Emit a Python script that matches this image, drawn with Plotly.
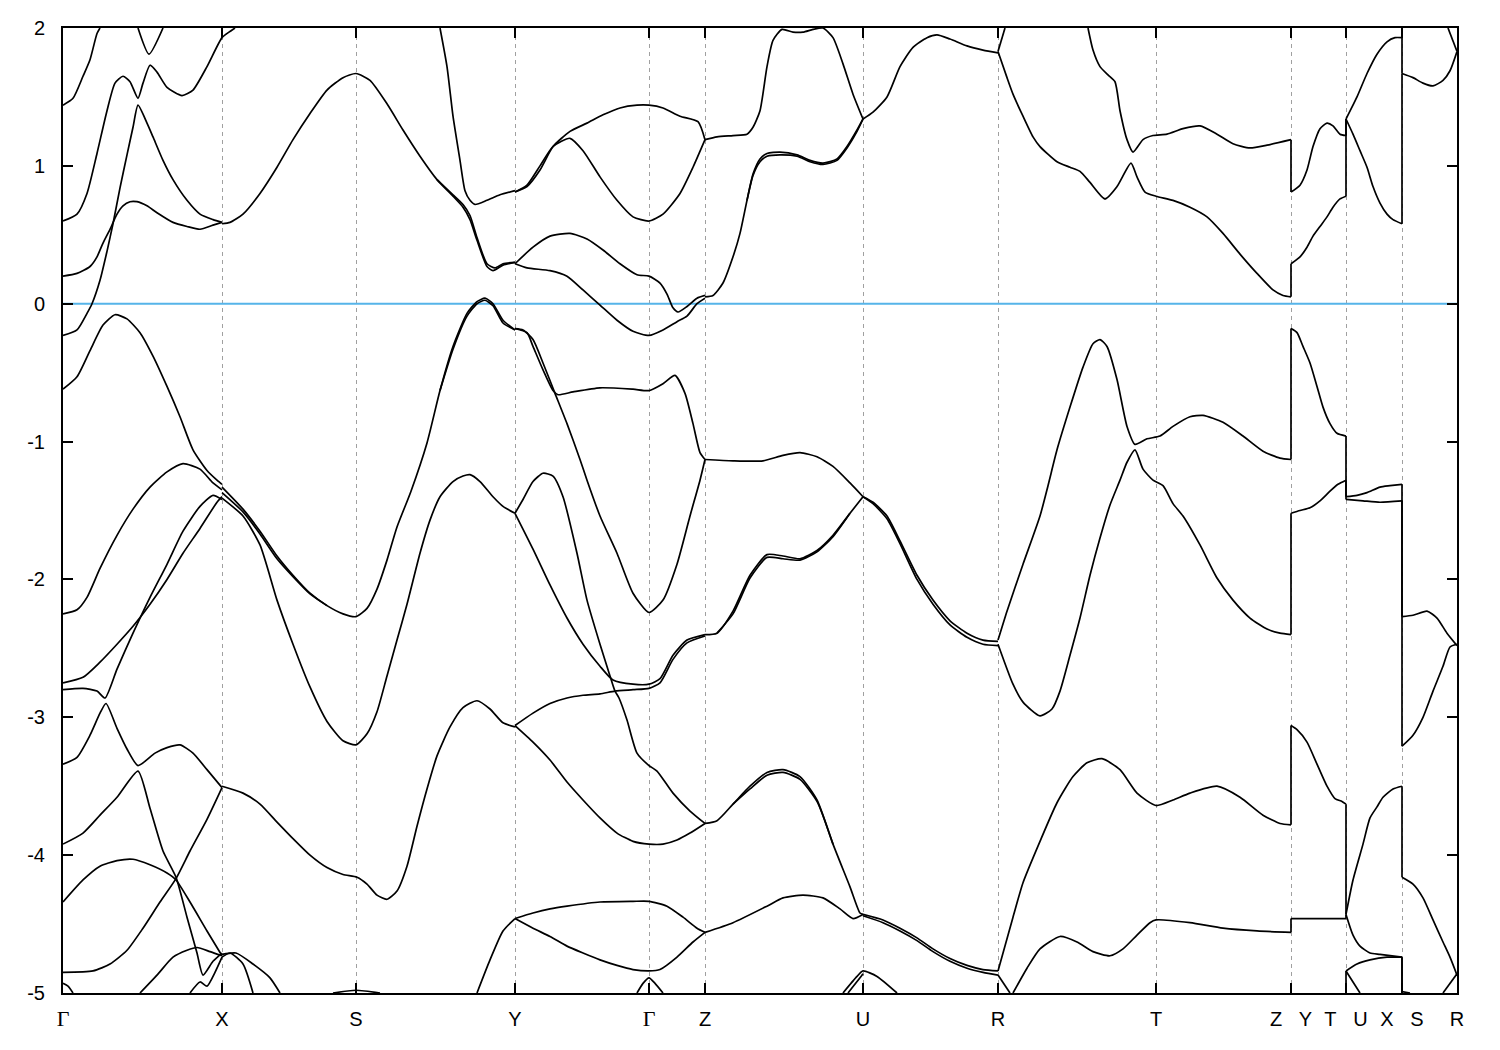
import plotly.graph_objects as go

# ---------------- high-symmetry path (path distance, arbitrary units) ----------------
K_POS = [0, 159, 293, 452, 586, 642, 800, 935, 1093, 1228, 1283, 1339, 1394]
K_LABELS = ["Γ", "X", "S", "Y", "Γ", "Z", "U", "R", "T", "Z   Y", "T   U", "X   S", "R"]
E_TICKS = [-5, -4, -3, -2, -1, 0, 1, 2]
E_RANGE = [-5, 2]
E_FERMI = 0.0

# ---------------- bands, (k, E in eV), per path segment ----------------
BANDS_G_X = [
    [(0, 0.60), (14, 0.65), (24, 0.80), (34, 1.09), (44, 1.40), (52, 1.60), (60, 1.65), (67, 1.61), (75, 1.49),
     (80, 1.60), (87, 1.73), (94, 1.68), (104, 1.57), (119, 1.51), (130, 1.55), (144, 1.72), (159, 1.93),
     (166, 1.97), (172, 2.0)],
    [(0, 0.20), (14, 0.22), (27, 0.27), (34, 0.34), (40, 0.44), (47, 0.54), (54, 0.65), (60, 0.71), (67, 0.74),
     (74, 0.74), (84, 0.71), (94, 0.66), (110, 0.59), (124, 0.56), (137, 0.54), (150, 0.57), (159, 0.59)],
    [(0, -0.23), (14, -0.19), (24, -0.07), (29, 0.0), (37, 0.17), (44, 0.38), (50, 0.58), (57, 0.84), (64, 1.08),
     (70, 1.28), (75, 1.44), (84, 1.31), (90, 1.21), (100, 1.04), (110, 0.90), (124, 0.75), (137, 0.65),
     (150, 0.61), (159, 0.59)],
    [(0, 1.44), (10, 1.49), (20, 1.65), (27, 1.77), (34, 1.96), (37, 2.0)],
    [(75, 2.0), (86, 1.81), (100, 2.0)],
    [(0, -0.62), (14, -0.53), (27, -0.34), (40, -0.155), (52, -0.08), (64, -0.11), (77, -0.21), (90, -0.38),
     (104, -0.60), (117, -0.82), (130, -1.06), (144, -1.21), (154, -1.28), (159, -1.31)],
    [(0, -2.25), (14, -2.22), (24, -2.13), (37, -1.92), (54, -1.68), (70, -1.49), (87, -1.33), (104, -1.22),
     (120, -1.16), (137, -1.20), (150, -1.30), (159, -1.35)],
    [(0, -2.75), (20, -2.71), (37, -2.60), (54, -2.47), (70, -2.34), (87, -2.18), (104, -2.0), (120, -1.81),
     (137, -1.63), (154, -1.44), (159, -1.40)],
    [(0, -2.80), (20, -2.79), (34, -2.81), (42, -2.86), (54, -2.65), (70, -2.39), (87, -2.13), (104, -1.89),
     (120, -1.65), (137, -1.47), (150, -1.39), (159, -1.42)],
    [(0, -3.34), (14, -3.29), (27, -3.13), (37, -2.97), (43, -2.90), (54, -3.08), (64, -3.23), (75, -3.35),
     (92, -3.26), (104, -3.22), (117, -3.20), (130, -3.26), (144, -3.38), (159, -3.51)],
    [(0, -3.92), (20, -3.84), (37, -3.71), (54, -3.58), (75, -3.39), (87, -3.66), (100, -3.97), (113, -4.16),
     (124, -4.45), (134, -4.71), (140, -4.87), (150, -4.77), (159, -4.71)],
    [(0, -4.34), (20, -4.18), (37, -4.08), (54, -4.04), (70, -4.03), (87, -4.07), (104, -4.13), (113, -4.18),
     (127, -4.34), (144, -4.55), (159, -4.73)],
    [(0, -4.85), (30, -4.84), (47, -4.79), (64, -4.69), (80, -4.53), (97, -4.34), (113, -4.17), (127, -3.97),
     (144, -3.74), (159, -3.51)],
    [(77, -5.0), (94, -4.87), (110, -4.74), (124, -4.69), (134, -4.67), (147, -4.70), (159, -4.73)],
    [(127, -5.0), (137, -4.92), (144, -4.95), (152, -4.85), (159, -4.74)],
    [(0, -4.93), (5, -4.95), (10, -5.0)],
]

BANDS_X_S_Y = [
    [(159, 0.58), (167, 0.59), (180, 0.65), (197, 0.80), (214, 0.99), (230, 1.19), (247, 1.38), (264, 1.55),
     (280, 1.64), (293, 1.67), (307, 1.62), (324, 1.45), (340, 1.26), (357, 1.07), (374, 0.90), (390, 0.78),
     (400, 0.70), (407, 0.61), (414, 0.46), (424, 0.27), (430, 0.24), (440, 0.28), (452, 0.30)],
    [(374, 0.90), (390, 0.79), (400, 0.72), (407, 0.64), (414, 0.48), (424, 0.29), (432, 0.26), (440, 0.29),
     (452, 0.30)],
    [(377, 2.0), (384, 1.72), (390, 1.36), (397, 1.04), (402, 0.82), (407, 0.75), (412, 0.72), (424, 0.75),
     (437, 0.79), (452, 0.82)],
    [(159, -1.33), (180, -1.49), (197, -1.65), (214, -1.83), (230, -1.97), (247, -2.10), (264, -2.19),
     (280, -2.25), (293, -2.27), (304, -2.21), (314, -2.07), (324, -1.86), (334, -1.62), (348, -1.36),
     (364, -1.01), (377, -0.63), (390, -0.31), (404, -0.07), (414, 0.015), (422, 0.04), (430, 0.0),
     (440, -0.12), (452, -0.19)],
    [(377, -0.63), (390, -0.33), (404, -0.09), (414, 0.0), (422, 0.025), (430, -0.015), (440, -0.14),
     (452, -0.19)],
    [(159, -1.37), (180, -1.51), (197, -1.67), (214, -1.85), (230, -1.98), (247, -2.105), (264, -2.19)],
    [(159, -1.41), (180, -1.54), (197, -1.75), (214, -2.15), (230, -2.47), (247, -2.78), (264, -3.03),
     (280, -3.17), (293, -3.20), (304, -3.12), (314, -2.96), (324, -2.70), (334, -2.44), (344, -2.18),
     (357, -1.81), (367, -1.57), (377, -1.40), (390, -1.29), (400, -1.25), (407, -1.24), (417, -1.29),
     (430, -1.40), (440, -1.47), (452, -1.52)],
    [(159, -3.50), (180, -3.55), (197, -3.63), (214, -3.76), (230, -3.88), (247, -4.0), (264, -4.09),
     (280, -4.14), (294, -4.16), (304, -4.21), (314, -4.29), (324, -4.32), (334, -4.26), (344, -4.08),
     (354, -3.79), (364, -3.52), (374, -3.28), (387, -3.07), (400, -2.93), (414, -2.88), (427, -2.94),
     (440, -3.04), (452, -3.07)],
    [(159, -4.72), (173, -4.71), (190, -4.79), (207, -4.89), (217, -5.0)],
    [(159, -4.74), (167, -4.71), (180, -4.79), (190, -5.0)],
    [(270, -5.0), (293, -4.98), (317, -5.0)],
    [(414, -5.0), (427, -4.76), (440, -4.55), (452, -4.46)],
]

BANDS_Y_G_Z = [
    [(452, 0.81), (464, 0.85), (477, 0.97), (490, 1.14), (507, 1.25), (524, 1.31), (540, 1.37), (557, 1.42),
     (574, 1.44), (586, 1.44), (600, 1.42), (617, 1.36), (635, 1.32), (642, 1.19)],
    [(452, 0.81), (464, 0.86), (477, 1.0), (490, 1.14), (507, 1.20), (520, 1.11), (537, 0.92), (554, 0.75),
     (570, 0.63), (586, 0.60), (600, 0.65), (617, 0.80), (630, 0.99), (642, 1.19)],
    [(452, 0.29), (470, 0.41), (487, 0.49), (507, 0.51), (524, 0.47), (540, 0.39), (557, 0.29), (574, 0.21),
     (586, 0.20), (597, 0.15), (604, 0.07), (610, -0.03), (615, -0.06), (624, -0.02), (634, 0.04), (642, 0.06)],
    [(452, 0.29), (464, 0.26), (487, 0.24), (504, 0.20), (520, 0.10), (537, -0.01), (554, -0.12), (570, -0.20),
     (586, -0.23), (600, -0.19), (614, -0.13), (624, -0.09), (634, 0.0), (642, 0.04)],
    [(452, -0.18), (464, -0.21), (470, -0.31), (480, -0.48), (490, -0.63), (495, -0.66), (510, -0.64),
     (537, -0.61), (570, -0.62), (586, -0.63), (600, -0.58), (612, -0.52), (622, -0.65), (630, -0.87),
     (637, -1.08), (642, -1.13)],
    [(452, -0.18), (460, -0.19), (470, -0.26), (480, -0.43), (492, -0.65), (504, -0.87), (517, -1.13),
     (524, -1.28), (537, -1.54), (554, -1.81), (570, -2.10), (586, -2.24), (600, -2.15), (614, -1.89),
     (627, -1.54), (637, -1.28), (642, -1.13)],
    [(452, -1.52), (460, -1.42), (470, -1.29), (480, -1.23), (490, -1.25), (500, -1.40), (514, -1.81),
     (524, -2.15), (537, -2.47), (547, -2.70), (552, -2.81), (556, -2.86), (564, -3.02), (574, -3.26),
     (586, -3.35), (594, -3.39), (610, -3.55), (627, -3.68), (642, -3.77)],
    [(452, -1.52), (470, -1.78), (487, -2.04), (504, -2.28), (520, -2.47), (537, -2.63), (550, -2.73),
     (570, -2.76), (586, -2.76), (597, -2.72), (610, -2.55), (624, -2.44), (642, -2.40)],
    [(452, -3.06), (470, -2.97), (487, -2.90), (504, -2.86), (520, -2.84), (537, -2.83), (552, -2.81),
     (570, -2.80), (586, -2.79), (597, -2.75), (610, -2.58), (624, -2.46), (642, -2.41)],
    [(452, -3.06), (470, -3.18), (487, -3.31), (504, -3.47), (520, -3.60), (537, -3.73), (554, -3.84),
     (570, -3.90), (586, -3.92), (600, -3.92), (614, -3.89), (627, -3.84), (642, -3.77)],
    [(452, -4.46), (470, -4.42), (487, -4.39), (504, -4.37), (537, -4.34), (570, -4.335), (586, -4.335),
     (604, -4.37), (620, -4.45), (634, -4.53), (642, -4.56)],
    [(452, -4.46), (470, -4.53), (487, -4.59), (504, -4.66), (520, -4.71), (537, -4.76), (554, -4.80),
     (570, -4.83), (586, -4.84), (597, -4.83), (614, -4.74), (630, -4.63), (642, -4.56)],
    [(574, -5.0), (580, -4.93), (586, -4.89), (592, -4.93), (600, -5.0)],
]

BANDS_Z_U_R = [
    [(642, 1.19), (654, 1.21), (670, 1.22), (684, 1.23), (690, 1.28), (697, 1.40), (704, 1.72), (710, 1.91),
     (719, 1.99), (730, 1.97), (740, 1.97), (750, 1.99), (760, 2.0), (770, 1.93), (780, 1.74), (790, 1.52),
     (800, 1.34)],
    [(642, 0.05), (650, 0.06), (660, 0.15), (670, 0.34), (677, 0.51), (684, 0.75), (690, 0.94), (697, 1.05),
     (704, 1.09), (717, 1.10), (734, 1.08), (747, 1.04), (760, 1.02), (774, 1.05), (784, 1.14), (794, 1.26),
     (800, 1.34)],
    [(684, 0.75), (690, 0.93), (697, 1.03), (704, 1.07), (717, 1.08), (734, 1.07), (747, 1.03), (760, 1.01),
     (774, 1.04), (784, 1.13), (794, 1.25), (800, 1.34)],
    [(642, -1.13), (670, -1.14), (700, -1.14), (720, -1.10), (737, -1.08), (754, -1.11), (770, -1.18),
     (787, -1.30), (800, -1.40)],
    [(642, -2.40), (654, -2.39), (670, -2.23), (687, -1.97), (704, -1.82), (720, -1.83), (737, -1.85),
     (754, -1.79), (770, -1.68), (787, -1.52), (800, -1.40)],
    [(654, -2.39), (670, -2.25), (687, -1.99), (704, -1.84), (720, -1.85), (737, -1.86), (754, -1.80),
     (770, -1.69), (787, -1.52)],
    [(642, -3.77), (654, -3.75), (670, -3.63), (687, -3.50), (704, -3.40), (720, -3.38), (737, -3.43),
     (754, -3.60), (770, -3.92), (787, -4.23), (797, -4.42), (800, -4.43)],
    [(670, -3.63), (687, -3.52), (704, -3.42), (720, -3.40), (737, -3.45), (754, -3.61), (770, -3.92)],
    [(642, -4.56), (670, -4.49), (704, -4.37), (720, -4.31), (740, -4.29), (760, -4.31), (777, -4.39),
     (790, -4.46), (800, -4.43)],
    [(780, -5.0), (794, -4.88), (800, -4.84), (814, -4.88), (834, -5.0)],
    [(785, -5.0), (797, -4.89), (800, -4.86)],
    [(800, 1.34), (810, 1.39), (824, 1.50), (837, 1.72), (850, 1.86), (864, 1.93), (874, 1.95), (887, 1.92),
     (904, 1.87), (920, 1.84), (935, 1.82)],
    [(800, -1.40), (810, -1.44), (824, -1.54), (837, -1.72), (854, -1.97), (870, -2.15), (887, -2.30),
     (904, -2.39), (920, -2.44), (935, -2.45)],
    [(800, -1.40), (810, -1.45), (824, -1.56), (837, -1.74), (854, -2.0), (870, -2.18), (887, -2.33),
     (904, -2.42), (920, -2.47), (935, -2.48)],
    [(800, -4.43), (820, -4.47), (837, -4.53), (854, -4.60), (870, -4.68), (887, -4.75), (904, -4.80),
     (920, -4.83), (935, -4.84)],
    [(800, -4.44), (820, -4.49), (837, -4.55), (854, -4.62), (870, -4.70), (887, -4.77), (904, -4.82),
     (920, -4.85), (935, -4.87)],
]

BANDS_R_T_Z = [
    [(935, 1.83), (944, 1.64), (950, 1.52), (960, 1.36), (970, 1.21), (977, 1.14), (994, 1.03), (1007, 0.99),
     (1017, 0.96), (1027, 0.88), (1042, 0.76), (1054, 0.85), (1068, 1.02), (1074, 0.92), (1082, 0.81),
     (1093, 0.78), (1110, 0.75), (1127, 0.70), (1144, 0.63), (1160, 0.51), (1177, 0.36), (1194, 0.22),
     (1210, 0.10), (1220, 0.06), (1228, 0.05)],
    [(935, 1.83), (942, 2.0)],
    [(1025, 2.0), (1030, 1.84), (1037, 1.72), (1045, 1.66), (1052, 1.61), (1057, 1.40), (1064, 1.19),
     (1070, 1.10), (1080, 1.19), (1090, 1.22), (1104, 1.23), (1120, 1.27), (1137, 1.29), (1154, 1.23),
     (1170, 1.16), (1187, 1.13), (1204, 1.15), (1228, 1.19)],
    [(935, -2.44), (944, -2.23), (960, -1.89), (977, -1.54), (985, -1.32), (994, -1.06), (1007, -0.75),
     (1020, -0.46), (1030, -0.29), (1037, -0.26), (1044, -0.31), (1054, -0.55), (1064, -0.89), (1072, -1.02),
     (1084, -0.98), (1097, -0.96), (1110, -0.89), (1127, -0.82), (1140, -0.81), (1160, -0.86), (1180, -0.96),
     (1200, -1.07), (1217, -1.12), (1228, -1.13)],
    [(935, -2.47), (950, -2.76), (960, -2.89), (977, -2.99), (989, -2.94), (997, -2.81), (1007, -2.55),
     (1017, -2.28), (1027, -1.97), (1037, -1.70), (1047, -1.46), (1057, -1.28), (1064, -1.15), (1072, -1.06),
     (1080, -1.20), (1090, -1.28), (1100, -1.32), (1110, -1.45), (1120, -1.54), (1137, -1.75), (1154, -1.99),
     (1170, -2.15), (1187, -2.28), (1204, -2.36), (1217, -2.39), (1228, -2.40)],
    [(935, -4.84), (950, -4.45), (960, -4.20), (977, -3.90), (994, -3.62), (1010, -3.43), (1024, -3.33),
     (1039, -3.30), (1057, -3.38), (1074, -3.55), (1093, -3.64), (1110, -3.60), (1127, -3.55), (1154, -3.50),
     (1177, -3.58), (1200, -3.71), (1217, -3.77), (1228, -3.78)],
    [(935, -4.87), (947, -5.0)],
    [(950, -5.0), (964, -4.82), (977, -4.68), (997, -4.59), (1014, -4.63), (1030, -4.70), (1047, -4.73),
     (1060, -4.68), (1074, -4.58), (1087, -4.49), (1093, -4.47), (1127, -4.49), (1160, -4.53), (1194, -4.55),
     (1228, -4.56)],
]

BANDS_Y_T = [
    [(1228, 0.81), (1237, 0.86), (1244, 0.97), (1250, 1.14), (1257, 1.27), (1264, 1.31), (1270, 1.29),
     (1277, 1.23), (1283, 1.22)],
    [(1228, 0.29), (1237, 0.34), (1244, 0.41), (1250, 0.49), (1257, 0.56), (1264, 0.63), (1270, 0.70),
     (1277, 0.76), (1283, 0.78)],
    [(1228, -0.18), (1234, -0.21), (1240, -0.31), (1247, -0.43), (1254, -0.60), (1260, -0.75), (1267, -0.87),
     (1274, -0.94), (1283, -0.96)],
    [(1228, -1.52), (1237, -1.50), (1247, -1.48), (1257, -1.43), (1267, -1.36), (1275, -1.31), (1283, -1.28)],
    [(1228, -3.06), (1234, -3.09), (1244, -3.18), (1254, -3.34), (1264, -3.50), (1272, -3.59), (1279, -3.61),
     (1283, -3.63)],
    [(1228, -4.46), (1255, -4.46), (1283, -4.46)],
]

BANDS_U_X = [
    [(1283, 1.34), (1294, 1.50), (1304, 1.67), (1314, 1.81), (1324, 1.90), (1332, 1.93), (1339, 1.93)],
    [(1283, 1.34), (1290, 1.23), (1297, 1.11), (1304, 0.99), (1310, 0.85), (1317, 0.73), (1324, 0.65),
     (1330, 0.61), (1339, 0.58)],
    [(1283, -1.40), (1294, -1.39), (1304, -1.37), (1317, -1.33), (1327, -1.32), (1339, -1.31)],
    [(1283, -1.42), (1300, -1.43), (1317, -1.44), (1339, -1.43)],
    [(1283, -4.43), (1290, -4.18), (1300, -3.92), (1307, -3.73), (1314, -3.65), (1320, -3.58), (1330, -3.52),
     (1339, -3.50)],
    [(1283, -4.43), (1290, -4.58), (1297, -4.66), (1307, -4.71), (1317, -4.72), (1339, -4.74)],
    [(1283, -4.84), (1294, -4.79), (1307, -4.76), (1324, -4.74), (1339, -4.74)],
    [(1283, -4.84), (1290, -4.92), (1297, -5.0)],
]

BANDS_S_R = [
    [(1339, 1.67), (1350, 1.64), (1360, 1.60), (1370, 1.58), (1380, 1.62), (1387, 1.69), (1394, 1.83)],
    [(1385, 2.0), (1394, 1.83)],
    [(1339, -2.27), (1350, -2.26), (1364, -2.23), (1374, -2.28), (1384, -2.39), (1394, -2.48)],
    [(1339, -3.21), (1350, -3.13), (1360, -3.0), (1370, -2.81), (1380, -2.63), (1387, -2.49), (1394, -2.47)],
    [(1339, -4.16), (1350, -4.21), (1360, -4.31), (1370, -4.47), (1380, -4.63), (1387, -4.74), (1394, -4.87)],
    [(1339, -4.99), (1347, -5.0)],
    [(1380, -5.0), (1394, -4.86)],
]

# discontinuities of the path: (E before, E after) at the joined labels
JUMPS_ZY = [(1.19, 0.81), (0.05, 0.29), (-1.13, -0.18), (-2.40, -1.52), (-3.78, -3.06), (-4.56, -4.46)]
JUMPS_TU = [(1.22, 1.34), (0.78, 1.34), (-0.96, -1.42), (-1.28, -1.40), (-3.63, -4.43), (-4.46, -4.43),
            (-5.0, -4.84)]
JUMPS_XS = [(1.93, 1.67), (0.58, 1.67), (-1.31, -2.27), (-1.43, -3.21), (-3.50, -4.16), (-4.74, -4.99),
            (-4.74, -5.0)]

# ---------------- figure ----------------
FONT = "Liberation Sans, Arial, sans-serif"
fig = go.Figure()

# Fermi level
fig.add_trace(go.Scatter(x=[K_POS[0], K_POS[-1]], y=[E_FERMI, E_FERMI], mode="lines",
                         line=dict(color="#56B4E9", width=2), hoverinfo="skip", showlegend=False))

bx, by = [], []
for group in (BANDS_G_X, BANDS_X_S_Y, BANDS_Y_G_Z, BANDS_Z_U_R, BANDS_R_T_Z, BANDS_Y_T, BANDS_U_X, BANDS_S_R):
    for band in group:
        for k, e in band:
            bx.append(k)
            by.append(e)
        bx.append(None)
        by.append(None)
fig.add_trace(go.Scatter(x=bx, y=by, mode="lines", connectgaps=False,
                         line=dict(color="black", width=1.7, shape="spline", smoothing=0.6),
                         hoverinfo="skip", showlegend=False))

jx, jy = [], []
for kpos, pairs in ((K_POS[9], JUMPS_ZY), (K_POS[10], JUMPS_TU), (K_POS[11], JUMPS_XS)):
    for e0, e1 in pairs:
        jx += [kpos, kpos, None]
        jy += [e0, e1, None]
fig.add_trace(go.Scatter(x=jx, y=jy, mode="lines", line=dict(color="black", width=1.7),
                         hoverinfo="skip", showlegend=False))

ticktext = []
for lab in K_LABELS:
    if lab == "Γ":
        ticktext.append("<span style='font-family:Liberation Serif;font-size:22px'>Γ</span>")
    else:
        ticktext.append(lab.replace(" ", "\u00a0"))

# the page body adds an 8 px offset; margins are set so the frame lands at 63..1457 x 28..993
fig.update_layout(
    width=1500, height=1050,
    paper_bgcolor="white", plot_bgcolor="white",
    margin=dict(l=55, r=51, t=20, b=65, autoexpand=False),
    font=dict(family=FONT, size=20, color="black"),
    showlegend=False,
)
fig.update_xaxes(
    range=[K_POS[0], K_POS[-1]], tickmode="array", tickvals=K_POS, ticktext=ticktext,
    ticks="inside", ticklen=10, tickwidth=2, tickcolor="black",
    showline=True, linecolor="black", linewidth=2, mirror="allticks",
    showgrid=True, gridcolor="#a0a0a0", griddash="4px,4px", gridwidth=1,
    zeroline=False, ticklabelstandoff=7, automargin=False,
)
fig.update_yaxes(
    range=E_RANGE, tickmode="array", tickvals=E_TICKS, ticktext=[str(t) for t in E_TICKS],
    ticks="inside", ticklen=10, tickwidth=2, tickcolor="black",
    showline=True, linecolor="black", linewidth=2, mirror="allticks",
    showgrid=False, zeroline=False, ticklabelstandoff=12, automargin=False,
)

fig.write_html("out.html")
